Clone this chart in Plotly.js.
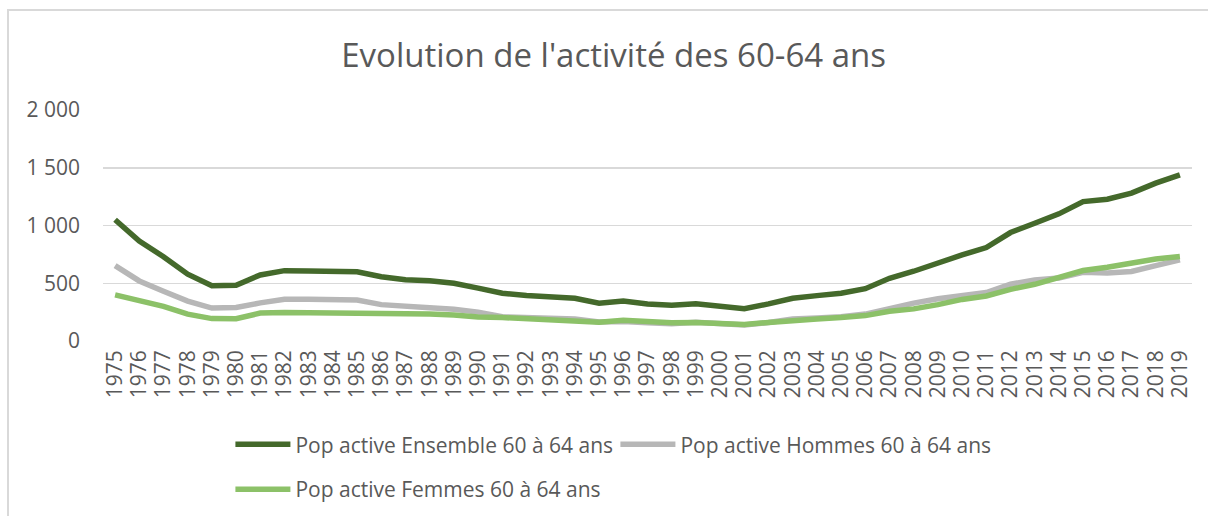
<!DOCTYPE html>
<html>
<head>
<meta charset="utf-8">
<script src="https://cdn.plot.ly/plotly-3.0.1.min.js"></script>
<style>
  html, body { margin: 0; padding: 0; background: #ffffff; }
  #wrap { position: relative; width: 1208px; height: 516px; overflow: hidden; }
  #chart { width: 1208px; height: 516px; }
  #frame { position: absolute; left: 7px; top: 9px; width: 1210px; height: 520px;
           border-left: 2px solid #d9d9d9; border-top: 2px solid #d9d9d9; pointer-events: none; }
</style>
</head>
<body>
<div id="wrap">
  <div id="chart"></div>
  <div id="frame"></div>
</div>
<script>
// Years (category tick labels)
const years = ["1975","1976","1977","1978","1979","1980","1981","1982","1983","1984",
               "1985","1986","1987","1988","1989","1990","1991","1992","1993","1994",
               "1995","1996","1997","1998","1999","2000","2001","2002","2003","2004",
               "2005","2006","2007","2008","2009","2010","2011","2012","2013","2014",
               "2015","2016","2017","2018","2019"];

// Pop active Ensemble 60 à 64 ans
const ensemble = [1050, 865, 730, 578, 479, 483, 572, 609, 607, 605,
                  600, 557, 530, 522, 500, 458, 413, 393, 378, 370,
                  327, 347, 321, 309, 323, 301, 280, 321, 370, 393,
                  413, 453, 543, 604, 679, 745, 809, 939, 1020, 1101,
                  1207, 1228, 1280, 1367, 1438];

// Pop active Hommes 60 à 64 ans
const hommes = [653, 520, 430, 345, 285, 290, 330, 362, 362, 360,
                355, 315, 297, 288, 275, 250, 210, 200, 192, 190,
                165, 168, 157, 150, 163, 150, 138, 160, 190, 200,
                210, 233, 283, 328, 365, 390, 420, 492, 528, 545,
                595, 588, 602, 652, 702];

// Pop active Femmes 60 à 64 ans
const femmes = [399, 345, 300, 233, 194, 193, 242, 247, 245, 245,
                245, 242, 233, 234, 225, 208, 203, 193, 186, 180,
                162, 179, 164, 159, 160, 151, 142, 161, 180, 190,
                203, 220, 258, 278, 315, 360, 390, 447, 491, 556,
                610, 638, 675, 710, 732];

const yTicks = [0, 500, 1000, 1500, 2000];

const FONT = "'Open Sans', 'Noto Sans', sans-serif";
const TXT = "#595959";

const traces = [
  { x: years, y: ensemble, type: "scatter", mode: "lines", name: "Pop active Ensemble 60 à 64 ans",
    line: { color: "#44692b", width: 5.5 }, legend: "legend" },
  { x: years, y: hommes, type: "scatter", mode: "lines", name: "Pop active Hommes 60 à 64 ans",
    line: { color: "#b7b7b7", width: 5.5 }, legend: "legend" },
  { x: years, y: femmes, type: "scatter", mode: "lines", name: "Pop active Femmes 60 à 64 ans",
    line: { color: "#8cc168", width: 5.5 }, legend: "legend2" }
];

const layout = {
  width: 1208, height: 516,
  paper_bgcolor: "#ffffff", plot_bgcolor: "#ffffff",
  margin: { l: 103, r: 16, t: 110, b: 175 },
  separators: ", ",
  font: { family: FONT, color: TXT, size: 21 },
  title: { text: "Evolution de l'activité des 60-64 ans", x: 0.508, xanchor: "center",
           y: 0.893, yanchor: "middle", font: { family: FONT, size: 33, color: TXT } },
  xaxis: { type: "category", tickvals: years, ticktext: years, tickangle: -90,
           range: [-0.5, years.length - 0.5],
           showgrid: false, showline: false, zeroline: false, ticks: "",
           tickfont: { family: FONT, size: 21, color: TXT }, ticklabelstandoff: 4,
           automargin: false, fixedrange: true },
  yaxis: { range: [0, 2000], tickvals: yTicks, tickformat: ",d",
           showgrid: true, gridcolor: "#d9d9d9", gridwidth: 1.5,
           showline: false, zeroline: false, ticks: "",
           tickfont: { family: FONT, size: 21, color: TXT }, ticklabelstandoff: 22,
           automargin: false, fixedrange: true },
  showlegend: true,
  legend: { orientation: "h", xref: "paper", x: 0.117, xanchor: "left",
            yref: "container", y: 0.178, yanchor: "top",
            font: { family: FONT, size: 21, color: TXT }, bgcolor: "rgba(0,0,0,0)",
            itemwidth: 55, entrywidth: 315, entrywidthmode: "pixels", traceorder: "normal" },
  legend2: { orientation: "h", xref: "paper", x: 0.117, xanchor: "left",
             yref: "container", y: 0.091, yanchor: "top",
             itemwidth: 55,
             font: { family: FONT, size: 21, color: TXT }, bgcolor: "rgba(0,0,0,0)" }
};

Plotly.newPlot("chart", traces, layout, { displayModeBar: false, staticPlot: true });
</script>
</body>
</html>
